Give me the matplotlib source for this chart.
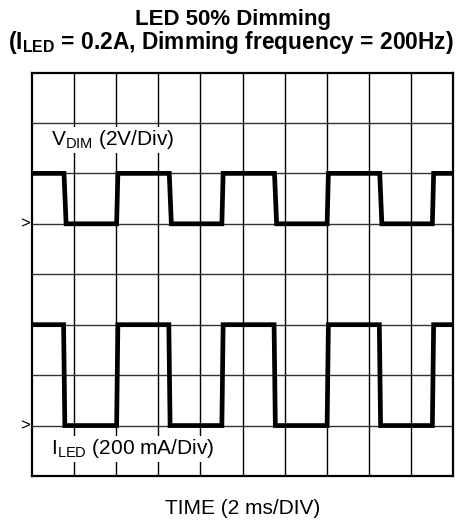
#LED 50% dimming scope capture - VDIM and ILED square waves
#Screen is 10 x 8 divisions, 2 ms/div horizontally.
import matplotlib.pyplot as plt
import numpy as np

plt.rcParams['font.family'] = ['Liberation Sans', 'DejaVu Sans']

W, H = 461, 523 #output size in pixels
dpi = 100

# time (ms) of the trace corners
vdim_t = [0, 1.52, 1.62, 4.02, 4.08, 6.52, 6.62, 9.02, 9.08, 11.52, 11.62,
          14.02, 14.08, 16.52, 16.62, 19.02, 19.08, 20]
vdim_v = [2, 2, 0, 0, 2, 2, 0, 0, 2, 2, 0, 0, 2, 2, 0, 0, 2, 2] #volts

iled_t = [0, 1.50, 1.56, 4.02, 4.08, 6.50, 6.56, 9.02, 9.08, 11.50, 11.56,
          14.02, 14.08, 16.50, 16.56, 19.02, 19.08, 20]
iled_i = [400, 400, 0, 0, 400, 400, 0, 0, 400, 400, 0, 0, 400, 400, 0, 0, 400, 400] #mA

ms_div = 2.0
v_div = 2.0 #V/div
i_div = 200.0 #mA/div
vdim_zero = 5 #ground marker position in divisions
iled_zero = 1

def px(x, y):
	return x/W, 1-y/H

fig = plt.figure(figsize=(W/dpi, H/dpi), dpi=dpi)
l, b = px(32, 476)
r, t = px(453, 72.5)
ax = fig.add_axes([l, b, r-l, t-b])

tv = np.array(vdim_t)/ms_div
yv = np.array(vdim_v)/v_div + vdim_zero
ti = np.array(iled_t)/ms_div
yi = np.array(iled_i)/i_div + iled_zero

ax.set_xlim(0, 10)
ax.set_ylim(0, 8)
for k in range(1, 10):
	ax.axvline(k, color='k', lw=1.0, zorder=1)
for k in range(1, 8):
	ax.axhline(k, color='#333333', lw=1.0, zorder=1)

ax.plot(tv, yv, 'k-', lw=3.4, solid_joinstyle='miter', zorder=3)
ax.plot(ti, yi, 'k-', lw=3.4, solid_joinstyle='miter', zorder=3)

ax.set_xticks([])
ax.set_yticks([])
for s in ax.spines.values():
	s.set_linewidth(1.6)

ax.text(0.45, 6.56, r'V$_{\mathregular{DIM}}$ (2V/Div)', fontsize=15, va='baseline',
        bbox=dict(facecolor='white', edgecolor='none', pad=1), zorder=4)
ax.text(0.45, 0.43, r'I$_{\mathregular{LED}}$ (200 mA/Div)', fontsize=15, va='baseline',
        bbox=dict(facecolor='white', edgecolor='none', pad=1), zorder=4)

fig.text(*px(25, 224), '>', fontsize=12, ha='center', va='center')
fig.text(*px(25, 426), '>', fontsize=12, ha='center', va='center')

fig.text(*px(233, 25.5), 'LED 50% Dimming', fontsize=16, fontweight='bold',
         ha='center', va='baseline')
fig.text(*px(231, 48.5), r'(I$_{\mathregular{LED}}$ = 0.2A, Dimming frequency = 200Hz)',
         fontsize=16.4, fontweight='bold', ha='center', va='baseline')
fig.text(*px(243, 514), 'TIME (2 ms/DIV)', fontsize=15, ha='center', va='baseline')

fig.savefig('out.png', dpi=dpi)
